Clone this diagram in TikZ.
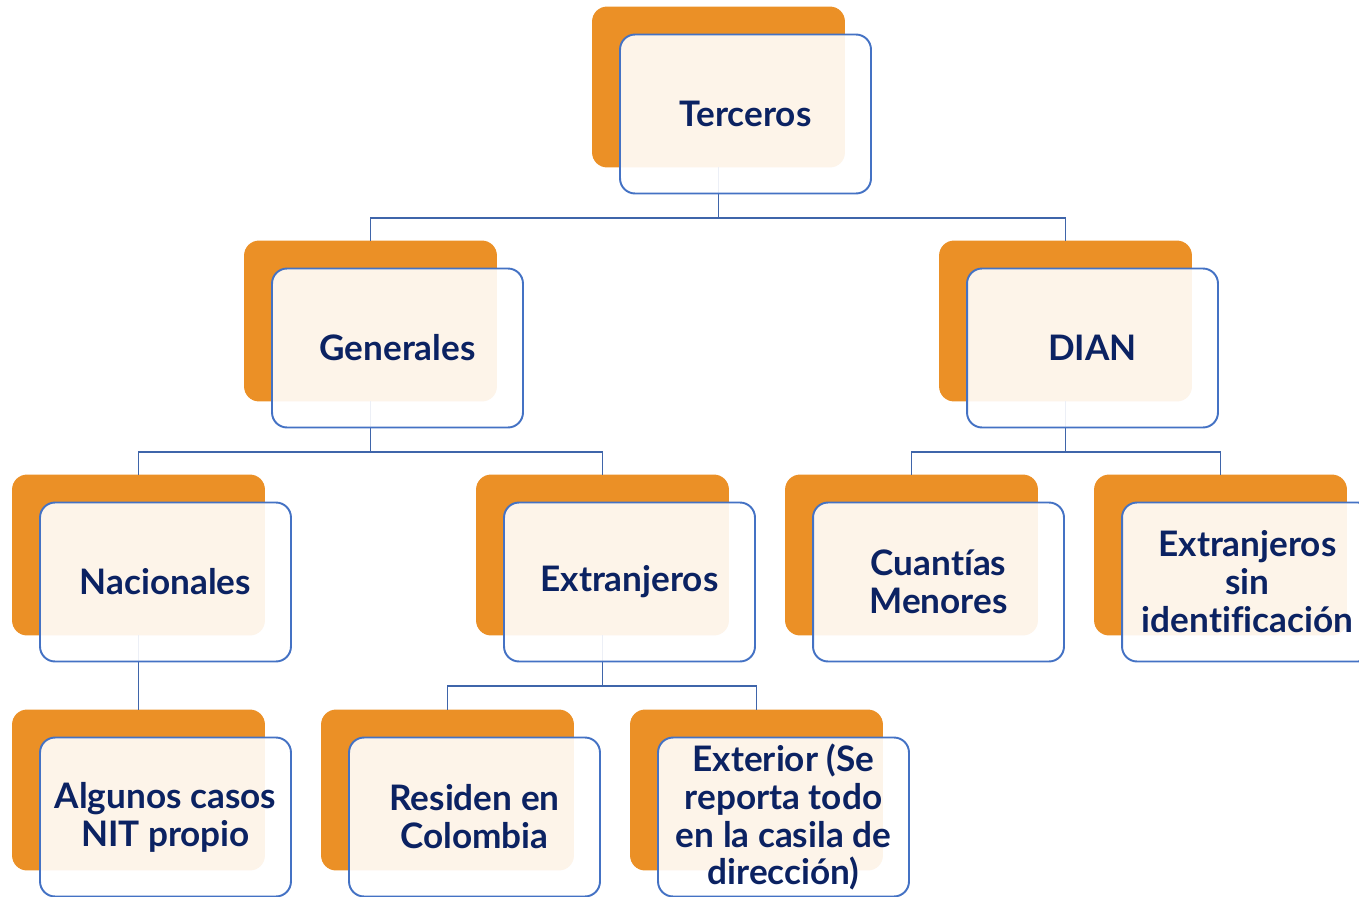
\documentclass[tikz,border=0pt]{standalone}
\usepackage{fontspec}
\setmainfont{Lato}[Ligatures=NoCommon]
\usetikzlibrary{calc}
\definecolor{boxorange}{HTML}{EB9026}
\definecolor{boxblue}{HTML}{4472C4}
\definecolor{linkblue}{HTML}{3F65AA}
\definecolor{textnavy}{HTML}{0B2262}
\pgfdeclarelayer{back}
\pgfdeclarelayer{links}
\pgfsetlayers{back,links,main}
\tikzset{
  item/.style={draw=boxblue, line width=1.1pt, fill=white, fill opacity=0.9, text opacity=1,
    rounded corners=0.3cm, minimum width=5.02cm, minimum height=3.18cm, align=center,
    text=textnavy, font=\fontsize{20}{21.6}\selectfont\bfseries},
  shade/.style={fill=boxorange, rounded corners=0.3cm},
  link/.style={draw=linkblue, line width=1.1pt}
}
\begin{document}
\begin{tikzpicture}[x=0.02cm,y=-0.02cm]
  \useasboundingbox (0,0) rectangle (1359,896);
  \node[item] (ter) at (745.5,114) {Terceros};
  \node[item] (gen) at (397.5,348) {Generales};
  \node[item] (dian) at (1092.5,348) {DIAN};
  \node[item] (nac) at (165.5,582) {Nacionales};
  \node[item] (ext) at (629.5,582) {Extranjeros};
  \node[item] (cua) at (938.5,582) {Cuantías\\Menores};
  \node[item] (sin) at (1247.5,582) {Extranjeros\\sin\\identificación};
  \node[item] (alg) at (165.5,817) {Algunos casos\\NIT propio};
  \node[item] (res) at (474.5,817) {Residen en\\Colombia};
  \node[item] (exte) at (783.5,817) {Exterior (Se\\reporta todo\\en la casila de\\dirección)};
  \begin{pgfonlayer}{back}
  \foreach \n in {ter,gen,dian,nac,ext,cua,sin,alg,res,exte} % orange box behind each item
    \path[shade] ([shift={(-27,-27)}]\n.north west) rectangle ([shift={(-27,-27)}]\n.south east)
      ([shift={(-27,-27)}]\n.north) coordinate (\n-top)
      ([shift={(-27,-27)}]\n.south) coordinate (\n-bot);
  \end{pgfonlayer}
  \begin{pgfonlayer}{links}
  \draw[link] (ter-bot) -- ++(0,51) coordinate (ter-bar) -| (gen-top) (ter-bar) -| (dian-top);
  \draw[link] (gen-bot) -- ++(0,51) coordinate (gen-bar) -| (nac-top) (gen-bar) -| (ext-top);
  \draw[link] (dian-bot) -- ++(0,51) coordinate (dian-bar) -| (cua-top) (dian-bar) -| (sin-top);
  \draw[link] (nac-bot) -- (alg-top);
  \draw[link] (ext-bot) -- ++(0,51) coordinate (ext-bar) -| (res-top) (ext-bar) -| (exte-top);
  \end{pgfonlayer}
\end{tikzpicture}
\end{document}
